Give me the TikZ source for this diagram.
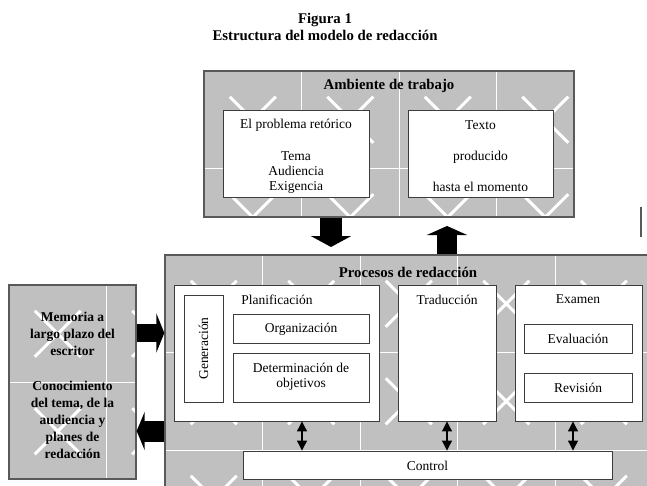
\documentclass[tikz,border=0pt]{standalone}
\usepackage{fontspec}
\setmainfont{Liberation Serif}
\usetikzlibrary{arrows.meta,fit,calc}
\definecolor{boxgray}{HTML}{C0C0C0}
\definecolor{edgegray}{HTML}{595959}
\definecolor{inkgray}{HTML}{3C3C3C}
\newcommand{\graypat}[4]{%
\begin{scope}
\clip (#1,#2) rectangle (#3,#4);
\fill[boxgray] (#1,#2) rectangle (#3,#4);
\foreach \k in {1,...,5}{\draw[white,line width=1pt] ({#1+\k*97.5},#2) -- ({#1+\k*97.5},#4);}
\foreach \k in {1,...,3}{\draw[white,line width=1pt] (#1,{#2+\k*97.5}) -- (#3,{#2+\k*97.5});}
\foreach \i in {0,...,4}{\foreach \j in {0,...,2}{
 \draw[white,line width=3pt] ({#1+\i*97.5+25.75},{#2+\j*97.5+25.75}) -- ++(46,46);
 \draw[white,line width=3pt] ({#1+\i*97.5+71.75},{#2+\j*97.5+25.75}) -- ++(-46,46);
}}
\end{scope}}
\begin{document}
\begin{tikzpicture}[x=1pt,y=-1pt,
  box/.style={draw=inkgray,line width=0.9pt,fill=white,inner sep=0pt},
  shell/.style={draw=edgegray,line width=1.3pt,inner sep=0pt},
  body/.style={font=\fontsize{13.5}{15}\selectfont},
  ttl/.style={font=\fontsize{14.8}{17}\selectfont\bfseries},
  blk/.style={draw=black},
  dbl/.style={draw=black,line width=1.1pt,{Triangle[width=10pt,length=10pt]}-{Triangle[width=10pt,length=10pt]}}]
\useasboundingbox (0,0) rectangle (647,485);
% title
\node[ttl,align=center] (title) at (325,26.5) {Figura 1\\Estructura del modelo de redacción};
% Ambiente de trabajo
\graypat{204}{71}{574}{217}
\node[shell,fit={(204,71)(574,217)}] (amb) {};
\node[ttl] (ambt) at (389,86) {Ambiente de trabajo};
\node[box,fit={(223,110)(369,197)}] (prob) {};
\node[body,align=center] (probt) at (296,156) {El problema retórico\\[17pt]Tema\\Audiencia\\Exigencia};
\node[box,fit={(408,110)(553,197)}] (texto) {};
\node[body,align=center] (textot) at (480.5,156.5) {Texto\\[16pt]producido\\[16pt]hasta el momento};
% Memoria
\graypat{9}{285}{136}{479}
\node[shell,fit={(9,285)(136,479)}] (mem) {};
\node[align=center,font=\fontsize{13.5}{17}\selectfont\bfseries] (memt) at (72.5,385.5) {Memoria a\\largo plazo del\\escritor\\[18pt]Conocimiento\\del tema, de la\\audiencia y\\planes de\\redacción};
% Procesos
\graypat{165}{255}{652}{492}
\node[shell,fit={(165,255)(652,492)}] (proc) {};
\node[ttl] (proct) at (408,272) {Procesos de redacción};
\node[box,fit={(174,285)(379,421)}] (plan) {};
\node[body] (planl) at (277,299.5) {Planificación};
\node[box,fit={(184,295)(223,402)}] (gen) {};
\node[body,rotate=90] (gent) at (gen.center) {Generación};
\node[box,fit={(233,314)(369,343)}] (org) {};
\node[body] (orgt) at (301,329) {Organización};
\node[box,fit={(233,353)(369,402)}] (det) {};
\node[body,align=center] (dett) at (301,376.5) {Determinación de\\objetivos};
\node[box,fit={(398,285)(496,421)}] (trad) {};
\node[body] (tradl) at (447,299.5) {Traducción};
\node[box,fit={(515,285)(642,421)}] (exam) {};
\node[body] (examl) at (578,299.5) {Examen};
\node[box,fit={(524,324)(632,353)}] (eval) {};
\node[body] (evalt) at (578,338.5) {Evaluación};
\node[box,fit={(524,373)(632,402)}] (rev) {};
\node[body] (revt) at (578,387.5) {Revisión};
\node[box,fit={(243,451)(612,479)}] (ctrl) {};
\node[body] (ctrlt) at (427.5,466) {Control};
% block arrows
\coordinate (dtip) at (331,247);
\draw[blk,line width=22pt,-{Triangle[width=40pt,length=11pt]}] (amb.south -| dtip) -- (dtip);
\coordinate (utip) at (447,226);
\draw[blk,line width=20pt,-{Triangle[width=40pt,length=9pt]}] (proc.north -| utip) -- (utip);
\coordinate (rrow) at (0,333);
\draw[blk,line width=18pt,-{Triangle[width=39pt,length=8pt]}] (mem.east |- rrow) -- (proc.west |- rrow);
\coordinate (lrow) at (0,431);
\draw[blk,line width=21pt,-{Triangle[width=38pt,length=8pt]}] (proc.west |- lrow) -- (mem.east |- lrow);
% double arrows
\coordinate (a1) at (302,0);
\coordinate (a2) at (447,0);
\coordinate (a3) at (573,0);
\draw[dbl] (plan.south -| a1) -- (ctrl.north -| a1);
\draw[dbl] (trad.south -| a2) -- (ctrl.north -| a2);
\draw[dbl] (exam.south -| a3) -- (ctrl.north -| a3);
% stray mark
\draw[edgegray,line width=1.3pt] (641,207) -- (641,237);
\end{tikzpicture}
\end{document}
